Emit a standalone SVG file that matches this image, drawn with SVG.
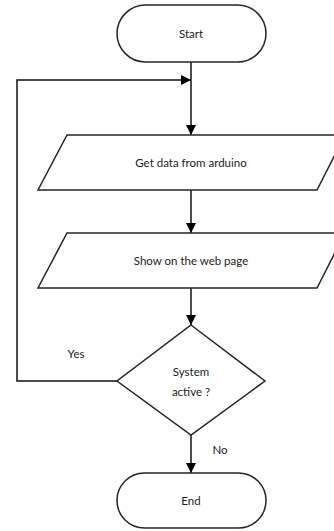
<svg xmlns="http://www.w3.org/2000/svg" width="334" height="531" viewBox="0 0 334 531">
<style>
.shape{fill:#fff;stroke:#262626;stroke-width:1.5}
.line{fill:none;stroke:#111;stroke-width:1.5}
text{font-family:Lato,"Open Sans","Liberation Sans",sans-serif;font-size:11.5px;fill:#222;text-anchor:middle;dominant-baseline:central}
</style>
<defs>
<marker id="arr" viewBox="0 0 10 10" refX="10" refY="5" markerWidth="10" markerHeight="10" markerUnits="userSpaceOnUse" orient="auto">
<path d="M0,0 L10,5 L0,10 z" fill="#000"/>
</marker>
</defs>
<rect width="334" height="531" fill="#fff"/>
<g id="connectors">
<path class="line" d="M191,62 V135" marker-end="url(#arr)"/>
<path class="line" d="M117,381 H17 V80 H191" marker-end="url(#arr)"/>
<path class="line" d="M191,190 V233" marker-end="url(#arr)"/>
<path class="line" d="M191,288 V325" marker-end="url(#arr)"/>
<path class="line" d="M191,435 V473" marker-end="url(#arr)"/>
</g>
<g id="start">
<rect class="shape" x="117" y="5" width="149" height="57" rx="28.5"/>
<text x="191" y="33">Start</text>
</g>
<g id="get-data">
<path class="shape" d="M67,135 H345 L317,190 H38 Z"/>
<text x="191" y="162">Get data from arduino</text>
</g>
<g id="show-web">
<path class="shape" d="M67,233 H345 L317,288 H38 Z"/>
<text x="191" y="260">Show on the web page</text>
</g>
<g id="decision">
<path class="shape" d="M191,325 L265,381 L191,435 L117,381 Z"/>
<text x="191" y="371">System</text>
<text x="191" y="391">active ?</text>
</g>
<g id="end">
<rect class="shape" x="117" y="473" width="149" height="55" rx="27.5"/>
<text x="191" y="500">End</text>
</g>
<g id="labels">
<text x="76" y="353">Yes</text>
<text x="220" y="449">No</text>
</g>
</svg>
